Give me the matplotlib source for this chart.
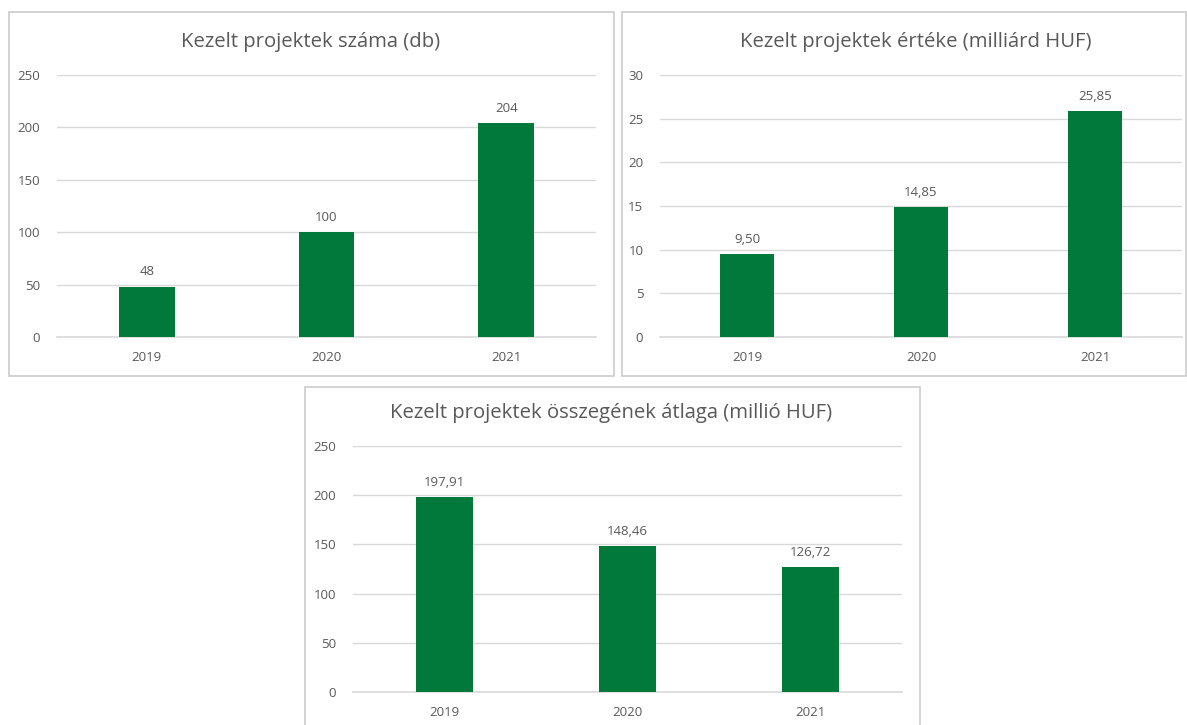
import matplotlib.pyplot as plt
from matplotlib.patches import Rectangle

plt.rcParams['font.family'] = ['Open Sans', 'DejaVu Sans']

# adatok
evek = ['2019', '2020', '2021']
darab = [48, 100, 204]
ertek = [9.50, 14.85, 25.85]
atlag = [197.91, 148.46, 126.72]

cimek = ['Kezelt projektek száma (db)',
         'Kezelt projektek értéke (milliárd HUF)',
         'Kezelt projektek összegének átlaga (millió HUF)']

zold = '#00793A'
szurke = '#595959'
racs = '#d9d9d9'

W, H = 1187, 725
fig = plt.figure(figsize=(W / 100, H / 100), dpi=100)


def px_axes(x0, x1, ytop, ybot):
    return fig.add_axes([x0 / W, (H - ybot) / H, (x1 - x0) / W, (ybot - ytop) / H])


def keret(x0, y0, x1, y1):
    fig.patches.append(Rectangle((x0 / W, (H - y1) / H), (x1 - x0) / W, (y1 - y0) / H,
                                 transform=fig.transFigure, fill=False,
                                 edgecolor='#d0d0d0', linewidth=1.3))


def diagram(ax, ertekek, ymax, lepes, cimkek):
    x = range(len(evek))
    ax.bar(x, ertekek, width=0.31, color=zold, zorder=3)
    ax.set_xlim(-0.5, len(evek) - 0.5)
    ax.set_ylim(0, ymax)
    ax.set_yticks(range(0, ymax + 1, lepes))
    ax.set_xticks(list(x))
    ax.set_xticklabels(evek)
    ax.yaxis.grid(True, color=racs, linewidth=1, zorder=0)
    ax.axhline(0, color=racs, linewidth=1.2, clip_on=False, zorder=1)
    ax.set_axisbelow(True)
    for s in ax.spines.values():
        s.set_visible(False)
    ax.tick_params(length=0, colors=szurke, labelsize=9.5)
    ax.tick_params(axis='y', pad=12)
    ax.tick_params(axis='x', pad=10)
    for i, v in enumerate(ertekek):
        ax.annotate(cimkek[i], (i, v), xytext=(0, 6), textcoords='offset points',
                    ha='center', va='bottom', color=szurke, fontsize=9.5)


# keretek
keret(9, 12, 614, 376)
keret(622, 12, 1186, 376)
keret(305, 387, 920, 740)

ax1 = px_axes(57, 596, 75, 337)
diagram(ax1, darab, 250, 50, [str(v) for v in darab])

ax2 = px_axes(660, 1182, 75, 337)
diagram(ax2, ertek, 30, 5, [f'{v:.2f}'.replace('.', ',') for v in ertek])

ax3 = px_axes(353, 902, 446, 692)
diagram(ax3, atlag, 250, 50, [f'{v:.2f}'.replace('.', ',') for v in atlag])

# címek
fig.text(311 / W, 1 - 42 / H, cimek[0], ha='center', va='center', color=szurke, fontsize=14.6)
fig.text(916 / W, 1 - 42 / H, cimek[1], ha='center', va='center', color=szurke, fontsize=14.6)
fig.text(611 / W, 1 - 413 / H, cimek[2], ha='center', va='center', color=szurke, fontsize=14.6)

fig.savefig('out.png', dpi=100, facecolor='white')
